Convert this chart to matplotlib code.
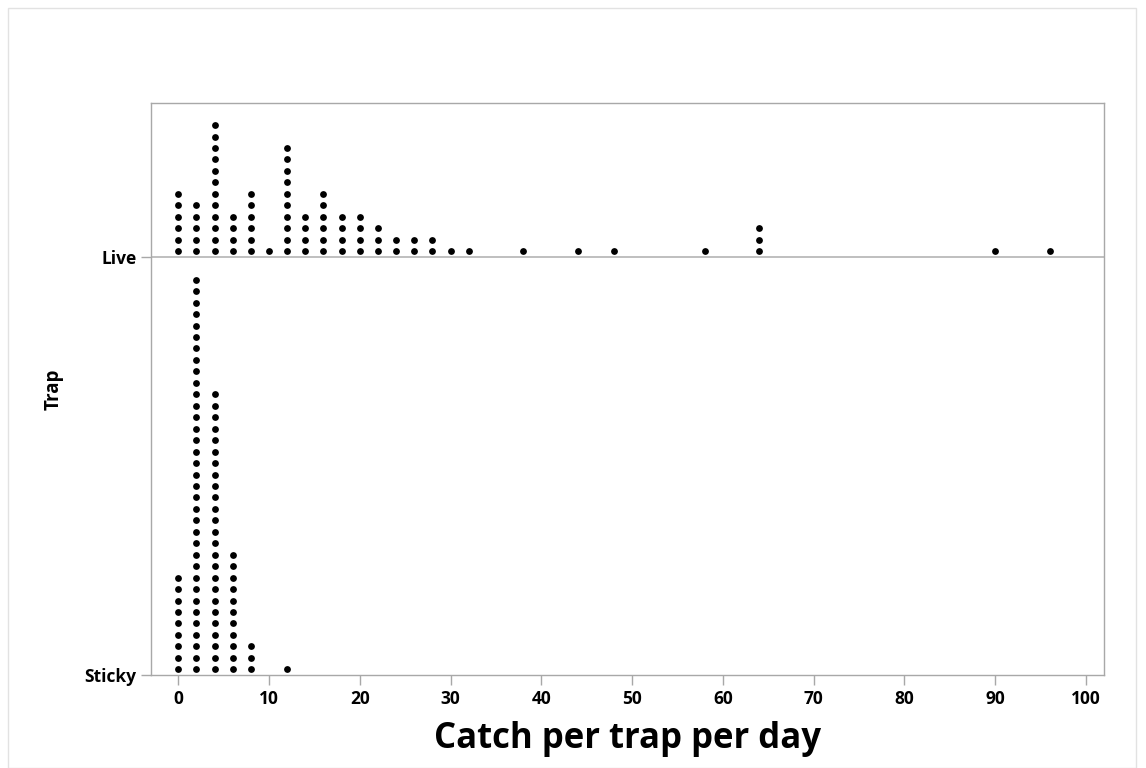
import numpy as np
import matplotlib.pyplot as plt
from matplotlib.patches import Rectangle

plt.rcParams['font.family'] = ['Open Sans', 'DejaVu Sans']

# catch values (x) and how many traps share each value
live_x = [0, 2, 4, 6, 8, 10, 12, 14, 16, 18, 20, 22, 24, 26, 28, 30, 32,
          38, 44, 48, 58, 64, 90, 96]
live_n = [6, 5, 12, 4, 6, 1, 10, 4, 6, 4, 4, 3, 2, 2, 2, 1, 1,
          1, 1, 1, 1, 3, 1, 1]
sticky_x = [0, 2, 4, 6, 8, 12]
sticky_n = [9, 35, 25, 11, 3, 1]

groups = ['Sticky', 'Live']
step = 0.0274  # vertical spacing of stacked dots


def stack(xs, ns, base):
    px, py = [], []
    for x, n in zip(xs, ns):
        for k in range(n):
            px.append(x)
            py.append(base + (k + 0.5) * step)
    return px, py


fig = plt.figure(figsize=(11.46, 7.68), dpi=100)
ax = fig.add_axes([151 / 1146, 93 / 768, (1104 - 151) / 1146, (675 - 103) / 768])

for base, (xs, ns) in enumerate([(sticky_x, sticky_n), (live_x, live_n)]):
    px, py = stack(xs, ns, base)
    ax.scatter(px, py, s=24, color='black', linewidths=0, zorder=3)

ax.axhline(1, color='#b4b4b4', lw=1.2, zorder=1)

ax.set_xlim(-3.0, 102.0)
ax.set_ylim(0, 1.368)
ax.set_xticks(np.arange(0, 101, 10))
ax.set_yticks([0, 1])
ax.set_yticklabels(groups)

for s in ax.spines.values():
    s.set_color('#a8a8a8')
    s.set_linewidth(1.0)
ax.tick_params(axis='both', colors='#a8a8a8', labelcolor='black',
               labelsize=12.5, length=7, width=1.0)
for lab in ax.get_xticklabels() + ax.get_yticklabels():
    lab.set_fontweight('bold')

ax.set_xlabel('Catch per trap per day', fontsize=25, fontweight='bold', labelpad=10)
ax.set_ylabel('Trap', fontsize=13.5, fontweight='bold', labelpad=15)

fig.patches.append(Rectangle((8 / 1146, 0), 1128 / 1146, 760 / 768,
                             transform=fig.transFigure, fill=False,
                             edgecolor='#e2e2e2', lw=1.0))

fig.savefig('out.png', dpi=100)
